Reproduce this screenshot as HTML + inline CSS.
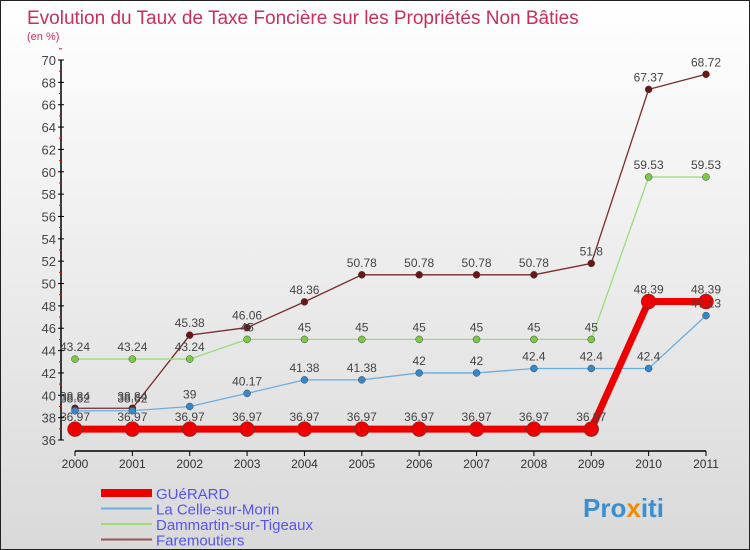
<!DOCTYPE html>
<html><head><meta charset="utf-8"><style>
body{margin:0;width:750px;height:550px;overflow:hidden;font-family:"Liberation Sans",sans-serif}
#wrap{position:relative;width:748px;height:548px;border:1px solid #222;background:linear-gradient(#ffffff,#d9d9d9)}
</style></head><body>
<div id="wrap">
<svg id="chart" width="748" height="548" style="position:absolute;left:0;top:0">
<text x="26" y="23" font-size="19" fill="#c8305a">Evolution du Taux de Taxe Foncière sur les Propriétés Non Bâties</text>
<text x="26" y="39" font-size="11" fill="#c8305a">(en %)</text>
<g id="axes"></g><g id="series"></g><g id="labels"></g>
<g id="legend"></g>
<text x="582" y="516" font-size="26" font-weight="bold" fill="#3a8fd0">Pro<tspan fill="#f08a00">x</tspan>iti</text>
</svg>
</div>
<script>
const years=["2000","2001","2002","2003","2004","2005","2006","2007","2008","2009","2010","2011"];
const yTicks=[36,38,40,42,44,46,48,50,52,54,56,58,60,62,64,66,68,70];
const guerard=[36.97,36.97,36.97,36.97,36.97,36.97,36.97,36.97,36.97,36.97,48.39,48.39];
const celle=[38.62,38.62,39,40.17,41.38,41.38,42,42,42.4,42.4,42.4,47.13];
const dammartin=[43.24,43.24,43.24,45,45,45,45,45,45,45,59.53,59.53];
const faremoutiers=[38.84,38.84,45.38,46.06,48.36,50.78,50.78,50.78,50.78,51.8,67.37,68.72];
const names=["GUéRARD","La Celle-sur-Morin","Dammartin-sur-Tigeaux","Faremoutiers"];
const NS="http://www.w3.org/2000/svg";
const xs=i=>74+i*(705-74)/11;
const ys=v=>439-(v-36)*(380/34);
function mk(tag,attrs,parent){const e=document.createElementNS(NS,tag);for(const k in attrs)e.setAttribute(k,attrs[k]);parent.appendChild(e);return e;}
const ax=document.getElementById('axes');
let a=mk('line',{x1:60,y1:ys(70),x2:60,y2:ys(36),stroke:'#000','stroke-width':1.5},ax);


a=mk('line',{x1:74,y1:450,x2:705,y2:450,stroke:'#000','stroke-width':1.5},ax);


yTicks.forEach(t=>{
 mk('line',{x1:57,y1:ys(t),x2:63,y2:ys(t),stroke:'#000'},ax);
 mk('line',{x1:58,y1:ys(t+1),x2:61,y2:ys(t+1),stroke:'#e00'},ax);
 const tx=mk('text',{x:55,y:ys(t)+5,'font-size':13,fill:'#444','text-anchor':'end'},ax);tx.textContent=t;
 
 
});
years.forEach((y,i)=>{
 mk('line',{x1:xs(i),y1:450,x2:xs(i),y2:455,stroke:'#000'},ax);
 const tx=mk('text',{x:xs(i),y:467,'font-size':12,fill:'#333','text-anchor':'middle'},ax);tx.textContent=y;
 
 
});
const sg=document.getElementById('series'),lg=document.getElementById('labels');
const defs=[[faremoutiers,'#7a2a2a','#6b1515',1.3,3.5,'faremoutiers'],[dammartin,'#99dd77','#77cc44',1.3,3.5,'dammartin-sur-tigeaux'],[celle,'#6aaee0','#3388cc',1.3,3.5,'la-celle-sur-morin'],[guerard,'#ee0000','#ee0000',7,7.5,'guerard']];
defs.forEach(([d,lc,pc,w,r,n])=>{
 const p=mk('polyline',{points:d.map((v,i)=>xs(i)+','+ys(v)).join(' '),fill:'none',stroke:lc,'stroke-width':w},sg);
 
 
 d.forEach((v,i)=>{
  const c=mk('circle',{cx:xs(i),cy:ys(v),r:r,fill:pc,stroke:'#444','stroke-width':0.5},sg);
  
  
  const t=mk('text',{x:xs(i),y:ys(v)-8,'font-size':12,fill:'#444','text-anchor':'middle'},lg);t.textContent=v;
  
  
 });
});
const leg=document.getElementById('legend');
const lcol=['#ee0000','#6aaee0','#99dd77','#9a5555'],lw=[8,2,2,2];
names.forEach((nm,i)=>{
 const y=492+i*15.5;
 const l=mk('line',{x1:100,y1:y,x2:151,y2:y,stroke:lcol[i],'stroke-width':lw[i]},leg);
 
 
 const t=mk('text',{x:155,y:y+6,'font-size':15,fill:'#5555ee'},leg);t.textContent=nm;
 
 
});
</script>
</body></html>
